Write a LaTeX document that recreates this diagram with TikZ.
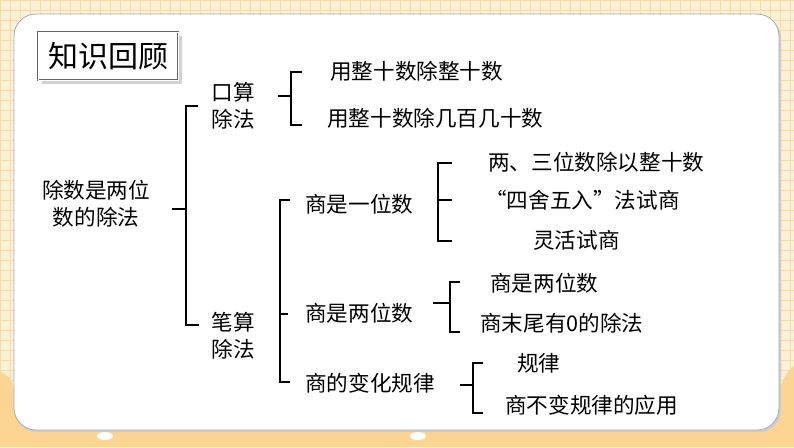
\documentclass[tikz,border=0pt]{standalone}
\usepackage{fontspec}
\newfontfamily\cjk{Noto Sans CJK SC}
\usetikzlibrary{calc}
\definecolor{paperCream}{HTML}{FCF1D6}
\definecolor{gridTan}{HTML}{F3DDB0}
\definecolor{sandOrange}{HTML}{FCD592}
\definecolor{frameRed}{HTML}{D8363A}
\tikzset{
  lbl/.style={font=\cjk\fontsize{21.6}{27}\selectfont, inner sep=0pt, anchor=west},
  grp/.style={font=\cjk\fontsize{21.6}{27}\selectfont, inner sep=0pt, align=center},
  brk/.style={line width=2pt, line join=miter, black},
  titlebox/.style={draw=frameRed, line width=0.7pt, double=white, double distance=1pt,
                   fill=white, minimum width=140pt, minimum height=48pt,
                   font=\cjk\fontsize{30}{32}\selectfont},
}

\begin{document}
\begin{tikzpicture}[x=1pt,y=-1pt]
\useasboundingbox (0,0) rectangle (794,447);
% background paper
\fill[paperCream] (0,0) rectangle (794,447);
\draw[gridTan, line width=0.6pt, step=10pt] (0,0) grid (794,447);
\fill[sandOrange] (0,372) .. controls (8,374) and (12,380) .. (14,388) -- (780,388)
  .. controls (784,376) and (790,368) .. (794,366) -- (794,447) -- (0,447) -- cycle;
\fill[white] (105,436) ellipse (8 and 4);
\fill[white] (418,436) ellipse (8 and 4);
% card
\fill[gray!40, rounded corners=22pt] (15,16) rectangle (781,432);
\filldraw[fill=white, draw=gray!65, line width=0.8pt, rounded corners=22pt] (14,14) rectangle (779,430);

% title
\fill[gray!35] (42,36) rectangle (182,84);
\node[titlebox] (title) at (108,56) {知识回顾};

% first level
\node[grp] (root) at (96,204) {除数是两位\\数的除法};
\node[grp] (kou) at (233,106) {口算\\除法};
\node[grp] (bi) at (233,336) {笔算\\除法};

% oral division
\node[lbl] (t1) at (330,71) {用整十数除整十数};
\node[lbl] (t2) at (327,118) {用整十数除几百几十数};

% written division
\node[lbl] (q1) at (305,204) {商是一位数};
\node[lbl] (q2) at (305,313) {商是两位数};
\node[lbl] (q3) at (305,383) {商的变化规律};

\node[lbl] (a1) at (488,162) {两、三位数除以整十数};
\node[lbl] (a2) at (485,200) {“四舍五入”法试商};
\node[lbl] (a3) at (533,240) {灵活试商};

\node[lbl] (b1) at (490,283) {商是两位数};
\node[lbl] (b2) at (480,323) {商末尾有0的除法};

\node[lbl] (c1) at (517,363) {规律};
\node[lbl] (c2) at (505,405) {商不变规律的应用};

% brackets
\coordinate (rt) at (186,106); \coordinate (rb) at (186,325); \coordinate (rm) at (186,209);
\draw[brk] ([xshift=12pt]rt) -- (rt) -- (rb) -- ([xshift=13pt]rb);
\draw[brk] (rm) -- ++(-14,0);

\coordinate (kt) at (291,72); \coordinate (kb) at (291,125); \coordinate (km) at (291,96);
\draw[brk] ([xshift=11pt]kt) -- (kt) -- (kb) -- ([xshift=11pt]kb);
\draw[brk] (km) -- ++(-13,0);

\coordinate (wt) at (280,200); \coordinate (wb) at (280,382); \coordinate (wm) at (280,314);
\draw[brk] ([xshift=10pt]wt) -- (wt) -- (wb) -- ([xshift=10pt]wb);
\draw[brk] (wm) -- ++(8,0);

\coordinate (ot) at (438,163); \coordinate (ob) at (438,241); \coordinate (om) at (438,200);
\draw[brk] ([xshift=14pt]ot) -- (ot) -- (ob) -- ([xshift=14pt]ob);
\draw[brk] (om) -- ++(14,0);

\coordinate (tt) at (450,282); \coordinate (tb) at (450,332); \coordinate (tm) at (450,303);
\draw[brk] ([xshift=10pt]tt) -- (tt) -- (tb) -- ([xshift=10pt]tb);
\draw[brk] (tm) -- ++(-17,0);

\coordinate (vt) at (473,363); \coordinate (vb) at (473,413); \coordinate (vm) at (473,385);
\draw[brk] ([xshift=10pt]vt) -- (vt) -- (vb) -- ([xshift=10pt]vb);
\draw[brk] (vm) -- ++(-13,0);
\end{tikzpicture}
\end{document}
